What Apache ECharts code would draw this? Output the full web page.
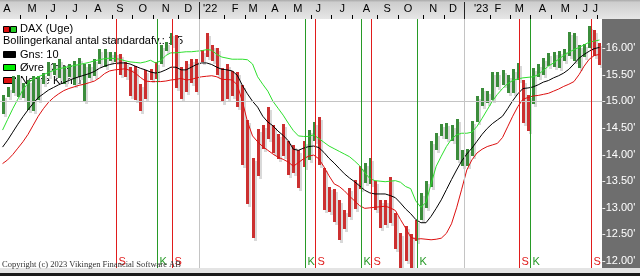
<!DOCTYPE html>
<html><head><meta charset="utf-8">
<script src="https://cdn.jsdelivr.net/npm/echarts@6/dist/echarts.min.js"></script>
<style>html,body{margin:0;padding:0;background:#fff}#c{width:640px;height:276px}</style>
</head><body><div id="c"></div>
<script>
// Weekly DAX bars (values in thousands)
const highs = [15.12,15.26,15.47,15.50,15.35,15.40,15.47,15.48,15.53,15.73,
 15.71,15.80,15.66,15.70,15.75,15.81,15.70,15.70,15.80,15.98,
 15.99,15.92,15.93,15.88,15.74,15.65,15.67,15.32,15.59,15.60,
 15.74,16.06,16.12,16.29,16.25,15.65,15.75,15.80,15.80,15.96,
 16.28,16.05,16.00,15.63,15.70,15.56,15.55,15.30,14.65,13.93,
 14.48,14.56,14.90,14.56,14.38,14.58,14.26,14.18,14.08,14.25,
 14.47,14.62,14.70,13.75,13.40,13.35,13.15,12.95,13.38,13.52,
 13.78,13.84,13.94,13.50,13.15,13.15,13.58,12.90,12.52,12.65,
 12.50,12.78,13.28,13.50,14.25,14.40,14.57,14.60,14.55,14.67,
 14.08,14.10,14.63,15.10,15.25,15.20,15.55,15.55,15.58,15.50,
 15.60,15.71,15.40,15.12,15.62,15.70,15.82,15.90,15.93,15.95,
 15.98,16.31,16.28,16.06,16.08,16.42,16.33,16.10];
const lows = [14.77,15.08,15.15,15.08,15.07,14.84,14.82,15.02,15.33,15.48,
 15.50,15.43,15.33,15.45,15.30,15.45,15.00,15.43,15.48,15.70,
 15.65,15.76,15.74,15.50,15.45,15.10,15.03,14.82,15.05,15.40,
 15.42,15.70,15.95,16.05,15.25,15.04,15.17,15.35,15.17,15.74,
 15.84,15.76,15.50,14.99,15.05,15.10,14.90,13.81,13.08,12.44,
 13.60,14.10,14.30,14.02,13.92,13.98,13.62,13.66,13.38,13.77,
 13.90,14.25,13.80,12.96,12.93,12.74,12.40,12.60,12.82,12.97,
 13.35,13.46,13.44,12.96,12.62,12.68,12.72,12.22,11.86,12.00,
 11.87,12.38,12.78,13.00,13.40,14.08,14.35,14.30,14.25,13.90,
 13.79,13.79,13.98,14.62,14.92,14.96,15.02,15.26,15.30,15.15,
 15.15,15.40,14.60,14.45,14.95,15.45,15.50,15.66,15.65,15.63,
 15.76,15.85,15.75,15.62,15.84,16.00,15.85,15.68];
// Bollinger channel: mean (Gns: 10), upper (Øvre), lower (Nedre)
const gns = [14.14,14.27,14.42,14.57,14.71,14.84,14.96,15.07,15.14,15.21,
 15.26,15.31,15.35,15.39,15.43,15.46,15.49,15.52,15.56,15.62,
 15.66,15.69,15.71,15.72,15.72,15.70,15.66,15.62,15.59,15.55,
 15.53,15.55,15.59,15.64,15.64,15.59,15.59,15.64,15.69,15.72,
 15.72,15.69,15.64,15.60,15.59,15.57,15.49,15.30,15.14,15.00,
 14.89,14.72,14.61,14.54,14.44,14.36,14.26,14.10,14.08,14.12,
 14.15,14.16,14.13,14.04,13.93,13.84,13.74,13.64,13.56,13.49,
 13.41,13.33,13.28,13.26,13.26,13.26,13.23,13.19,13.09,12.98,
 12.89,12.78,12.72,12.72,12.84,12.99,13.15,13.34,13.53,13.71,
 13.88,14.01,14.12,14.25,14.38,14.49,14.58,14.65,14.72,14.86,
 15.01,15.14,15.24,15.25,15.27,15.31,15.36,15.39,15.44,15.48,
 15.53,15.60,15.70,15.81,15.88,15.94,15.99,16.01];
const ovre = [14.46,14.66,14.86,15.04,15.22,15.34,15.42,15.46,15.50,15.54,
 15.58,15.61,15.63,15.65,15.67,15.69,15.71,15.73,15.76,15.78,
 15.80,15.81,15.80,15.79,15.76,15.74,15.73,15.72,15.74,15.77,
 15.72,15.76,15.86,15.91,15.91,15.92,15.93,15.93,15.94,15.95,
 15.97,15.96,15.88,15.83,15.81,15.79,15.79,15.79,15.78,15.70,
 15.46,15.32,15.19,15.00,14.87,14.74,14.59,14.45,14.35,14.34,
 14.34,14.37,14.30,14.23,14.16,14.11,14.06,14.01,13.96,13.88,
 13.79,13.66,13.55,13.51,13.50,13.49,13.50,13.51,13.48,13.40,
 13.36,13.13,13.01,13.10,13.45,13.78,13.97,14.15,14.29,14.37,
 14.40,14.40,14.42,14.53,14.68,14.84,15.00,15.13,15.24,15.33,
 15.39,15.42,15.44,15.45,15.46,15.50,15.58,15.66,15.72,15.79,
 15.86,15.92,15.97,16.01,16.06,16.11,16.13,16.15];
const nedre = [13.83,13.90,14.00,14.12,14.24,14.38,14.55,14.72,14.86,14.98,
 15.07,15.14,15.20,15.24,15.27,15.30,15.32,15.35,15.38,15.44,
 15.52,15.57,15.59,15.60,15.61,15.58,15.53,15.45,15.38,15.37,
 15.37,15.37,15.38,15.40,15.41,15.43,15.40,15.41,15.44,15.46,
 15.47,15.48,15.46,15.41,15.41,15.40,15.31,15.00,14.62,14.35,
 14.24,14.15,14.08,14.01,13.95,13.91,13.86,13.78,13.85,13.92,
 13.97,13.99,13.92,13.77,13.60,13.45,13.40,13.32,13.22,13.13,
 13.04,12.99,13.00,13.01,13.02,13.03,13.00,12.95,12.78,12.62,
 12.45,12.41,12.42,12.41,12.40,12.41,12.43,12.52,12.70,13.00,
 13.35,13.71,13.90,14.03,14.10,14.15,14.18,14.21,14.32,14.52,
 14.72,14.90,15.04,15.07,15.10,15.11,15.13,15.15,15.19,15.23,
 15.28,15.32,15.37,15.50,15.66,15.79,15.86,15.88];
// Signals (week index where the signal starts): S = sell, K = buy
const signalWeeks = [23,31,34,60,62,71,73,82,102,104,116];
const signalTypes = ['S','K','S','K','S','K','S','K','S','K','S'];
// Axis labels
const monthLabels = ['A','M','J','J','A','S','O','N','D',"'22",'F','M','A','M','J','J','A','S','O','N','D',"'23",'F','M','A','M','J','J'];
const monthLabelPos = [1.37,6.27,10.4,14.7,19.2,23.5,28.0,32.5,36.9,41.2,46.1,49.6,53.9,58.4,62.4,67.1,71.8,75.9,80.0,84.9,88.8,94.3,97.6,101.8,106.3,110.8,114.7,116.7];
const monthTicks = [4,9,13,17,22,26,30,35,39,44,48,52,56,61,65,69,74,78,83,87,91,96,100,104,108,113,117];
const yearTicks = [39,91];
const priceTicks = [12,12.5,13,13.5,14,14.5,15,15.5,16];
const refLevel = 15;

const NW = highs.length;
const GREEN = '#3b8c3b', RED = '#cc3030';
const FONT = '"Liberation Sans", Arial, sans-serif';

function stateAt(i){
  let s = 'K';
  for (let j = 0; j < signalWeeks.length; j++) if (signalWeeks[j] <= i) s = signalTypes[j];
  return s === 'S' ? 1 : 0;
}
const barData = highs.map((h, i) => [i + 0.5, h, lows[i], stateAt(i)]);
const lineOf = arr => arr.map((v, i) => [i + 0.5, v]);
const labelMap = {};
monthLabelPos.forEach((p, i) => { labelMap[p.toFixed(2)] = monthLabels[i]; });

function shadowItem(params, api){
  const p1 = api.coord([api.value(0), api.value(1)]), p2 = api.coord([api.value(0), api.value(2)]);
  const cx = Math.round(p1[0]); const top = Math.round(p1[1]);
  const h = Math.max(1, Math.round(p2[1]) - top);
  return {type:'rect', shape:{x: cx + 1, y: top + 3, width: 3, height: h}, style:{fill:'#d9d9d9'}};
}
function barItem(params, api){
  const p1 = api.coord([api.value(0), api.value(1)]), p2 = api.coord([api.value(0), api.value(2)]);
  const cx = Math.round(p1[0]); const top = Math.round(p1[1]);
  const h = Math.max(1, Math.round(p2[1]) - top);
  return {type:'rect', shape:{x: cx - 1, y: top, width: 3, height: h}, style:{fill: api.value(3) ? RED : GREEN}};
}
function signalItem(params, api){
  const idx = api.value(1);
  const cs = params.coordSys;
  const x = Math.round(api.coord([api.value(0), refLevel])[0]) - 0.5;
  const col = signalTypes[idx] === 'S' ? '#e01c1c' : '#279a27';
  return {type:'group', children:[
    {type:'line', shape:{x1:x, y1:cs.y, x2:x, y2:cs.y + cs.height}, style:{stroke: col, lineWidth:1}},
    {type:'text', x: x + 2, y: cs.y + cs.height - 6, style:{text: signalTypes[idx], fill: col, font: '11px ' + FONT, verticalAlign:'middle', align:'left'}}
  ]};
}

const chart = echarts.init(document.getElementById('c'), null, {renderer:'canvas'});
const legendItems = [];
function legendText(txt, x, y){ legendItems.push({type:'text', z:1, x:x, y:y, style:{text:txt, fill:'#000', font:'11px ' + FONT, verticalAlign:'middle'}}); }
function legendBox(x, y, w, h, col){ legendItems.push({type:'rect', z:1, shape:{x:x, y:y, width:w, height:h}, style:{fill:col, stroke:'#000', lineWidth:1}}); }
legendBox(3.5, 26.5, 6, 6, '#dd1111'); legendBox(10.5, 26.5, 6, 6, '#22cc22'); legendText('DAX (Uge)', 20, 29);
legendText('Bollingerkanal antal standardafv.: 1.5', 3, 41);
legendBox(3.5, 51.5, 12, 6, '#000'); legendText('Gns: 10', 20, 55);
legendBox(3.5, 64.5, 12, 6, '#00ee00'); legendText('Øvre Kanal', 20, 68);
legendBox(3.5, 77.5, 12, 6, '#dd1111'); legendText('Nedre Kanal', 20, 81);

chart.setOption({
  animation: false,
  backgroundColor: '#ffffff',
  grid: {left:0, right:38, top:19, bottom:8, containLabel:false, outerBoundsMode:'none'},
  graphic: [
    {type:'rect', z:0, shape:{x:0, y:0, width:640, height:19}, style:{fill: new echarts.graphic.LinearGradient(0,0,0,1,[{offset:0,color:'#a9a9a9'},{offset:0.12,color:'#cdcdcd'},{offset:1,color:'#e6e6e6'}])}},
    {type:'rect', z:0, shape:{x:602, y:19, width:38, height:249}, style:{fill:'#6e6e6e'}},
    {type:'rect', z:0, shape:{x:0, y:268, width:640, height:8}, style:{fill:'#e4e4e4'}},
    {type:'rect', z:30, shape:{x:0, y:273, width:640, height:3}, style:{fill:'#1a1a1a'}},
    {type:'text', z:30, x:2, y:265, style:{text:'Copyright (c) 2023 Vikingen Financial Software AB', fill:'#333', font:'8.5px "Liberation Serif", "Times New Roman", serif', verticalAlign:'middle'}}
  ].concat(legendItems),
  xAxis: [
    {type:'value', min:0, max:NW, position:'bottom', show:false},
    {type:'value', min:0, max:NW, position:'top', z:10,
      axisLine:{show:false}, splitLine:{show:false},
      axisTick:{show:true, customValues: monthTicks, length:4, lineStyle:{color:'#000', width:1}},
      axisLabel:{show:true, customValues: monthLabelPos, margin:5, color:'#000', fontSize:11, fontFamily:FONT,
        formatter: v => labelMap[Number(v).toFixed(2)] || ''}},
    {type:'value', min:0, max:NW, position:'top', z:10,
      axisLine:{show:false}, splitLine:{show:false}, axisLabel:{show:false},
      axisTick:{show:true, customValues: yearTicks, length:17, lineStyle:{color:'#222', width:1}}}
  ],
  yAxis: [{type:'value', min:11.87, max:16.545, position:'right', z:10,
    axisLine:{show:false}, axisTick:{show:false}, splitLine:{show:false},
    axisLabel:{customValues: priceTicks, margin:0, color:'#fff', fontSize:11, fontFamily:FONT, align:'left',
      formatter: v => '-' + Number(v).toFixed(2) + "'"}}],
  series: [
    {type:'line', data:[], z:1, silent:true, markLine:{silent:true, symbol:['none','none'], label:{show:false},
      lineStyle:{color:'#c4c4c4', type:'solid', width:1},
      data:[{xAxis:yearTicks[0]},{xAxis:yearTicks[1]},{yAxis:refLevel}]}},
    {type:'custom', z:2, clip:true, silent:true, renderItem: shadowItem, data: barData, encode:{x:0, y:[1,2]}},
    {type:'custom', z:3, clip:true, silent:true, renderItem: barItem, data: barData, encode:{x:0, y:[1,2]}},
    {type:'line', z:4, data: lineOf(ovre), showSymbol:false, symbol:'none', lineStyle:{color:'#2ee02e', width:1}, clip:true, silent:true},
    {type:'line', z:4, data: lineOf(nedre), showSymbol:false, symbol:'none', lineStyle:{color:'#dd1010', width:1}, clip:true, silent:true},
    {type:'line', z:4, data: lineOf(gns), showSymbol:false, symbol:'none', lineStyle:{color:'#000000', width:1}, clip:true, silent:true},
    {type:'custom', z:5, clip:false, silent:true, renderItem: signalItem, data: signalWeeks.map((w, i) => [w, i]), encode:{x:0}}
  ]
});
</script></body></html>
